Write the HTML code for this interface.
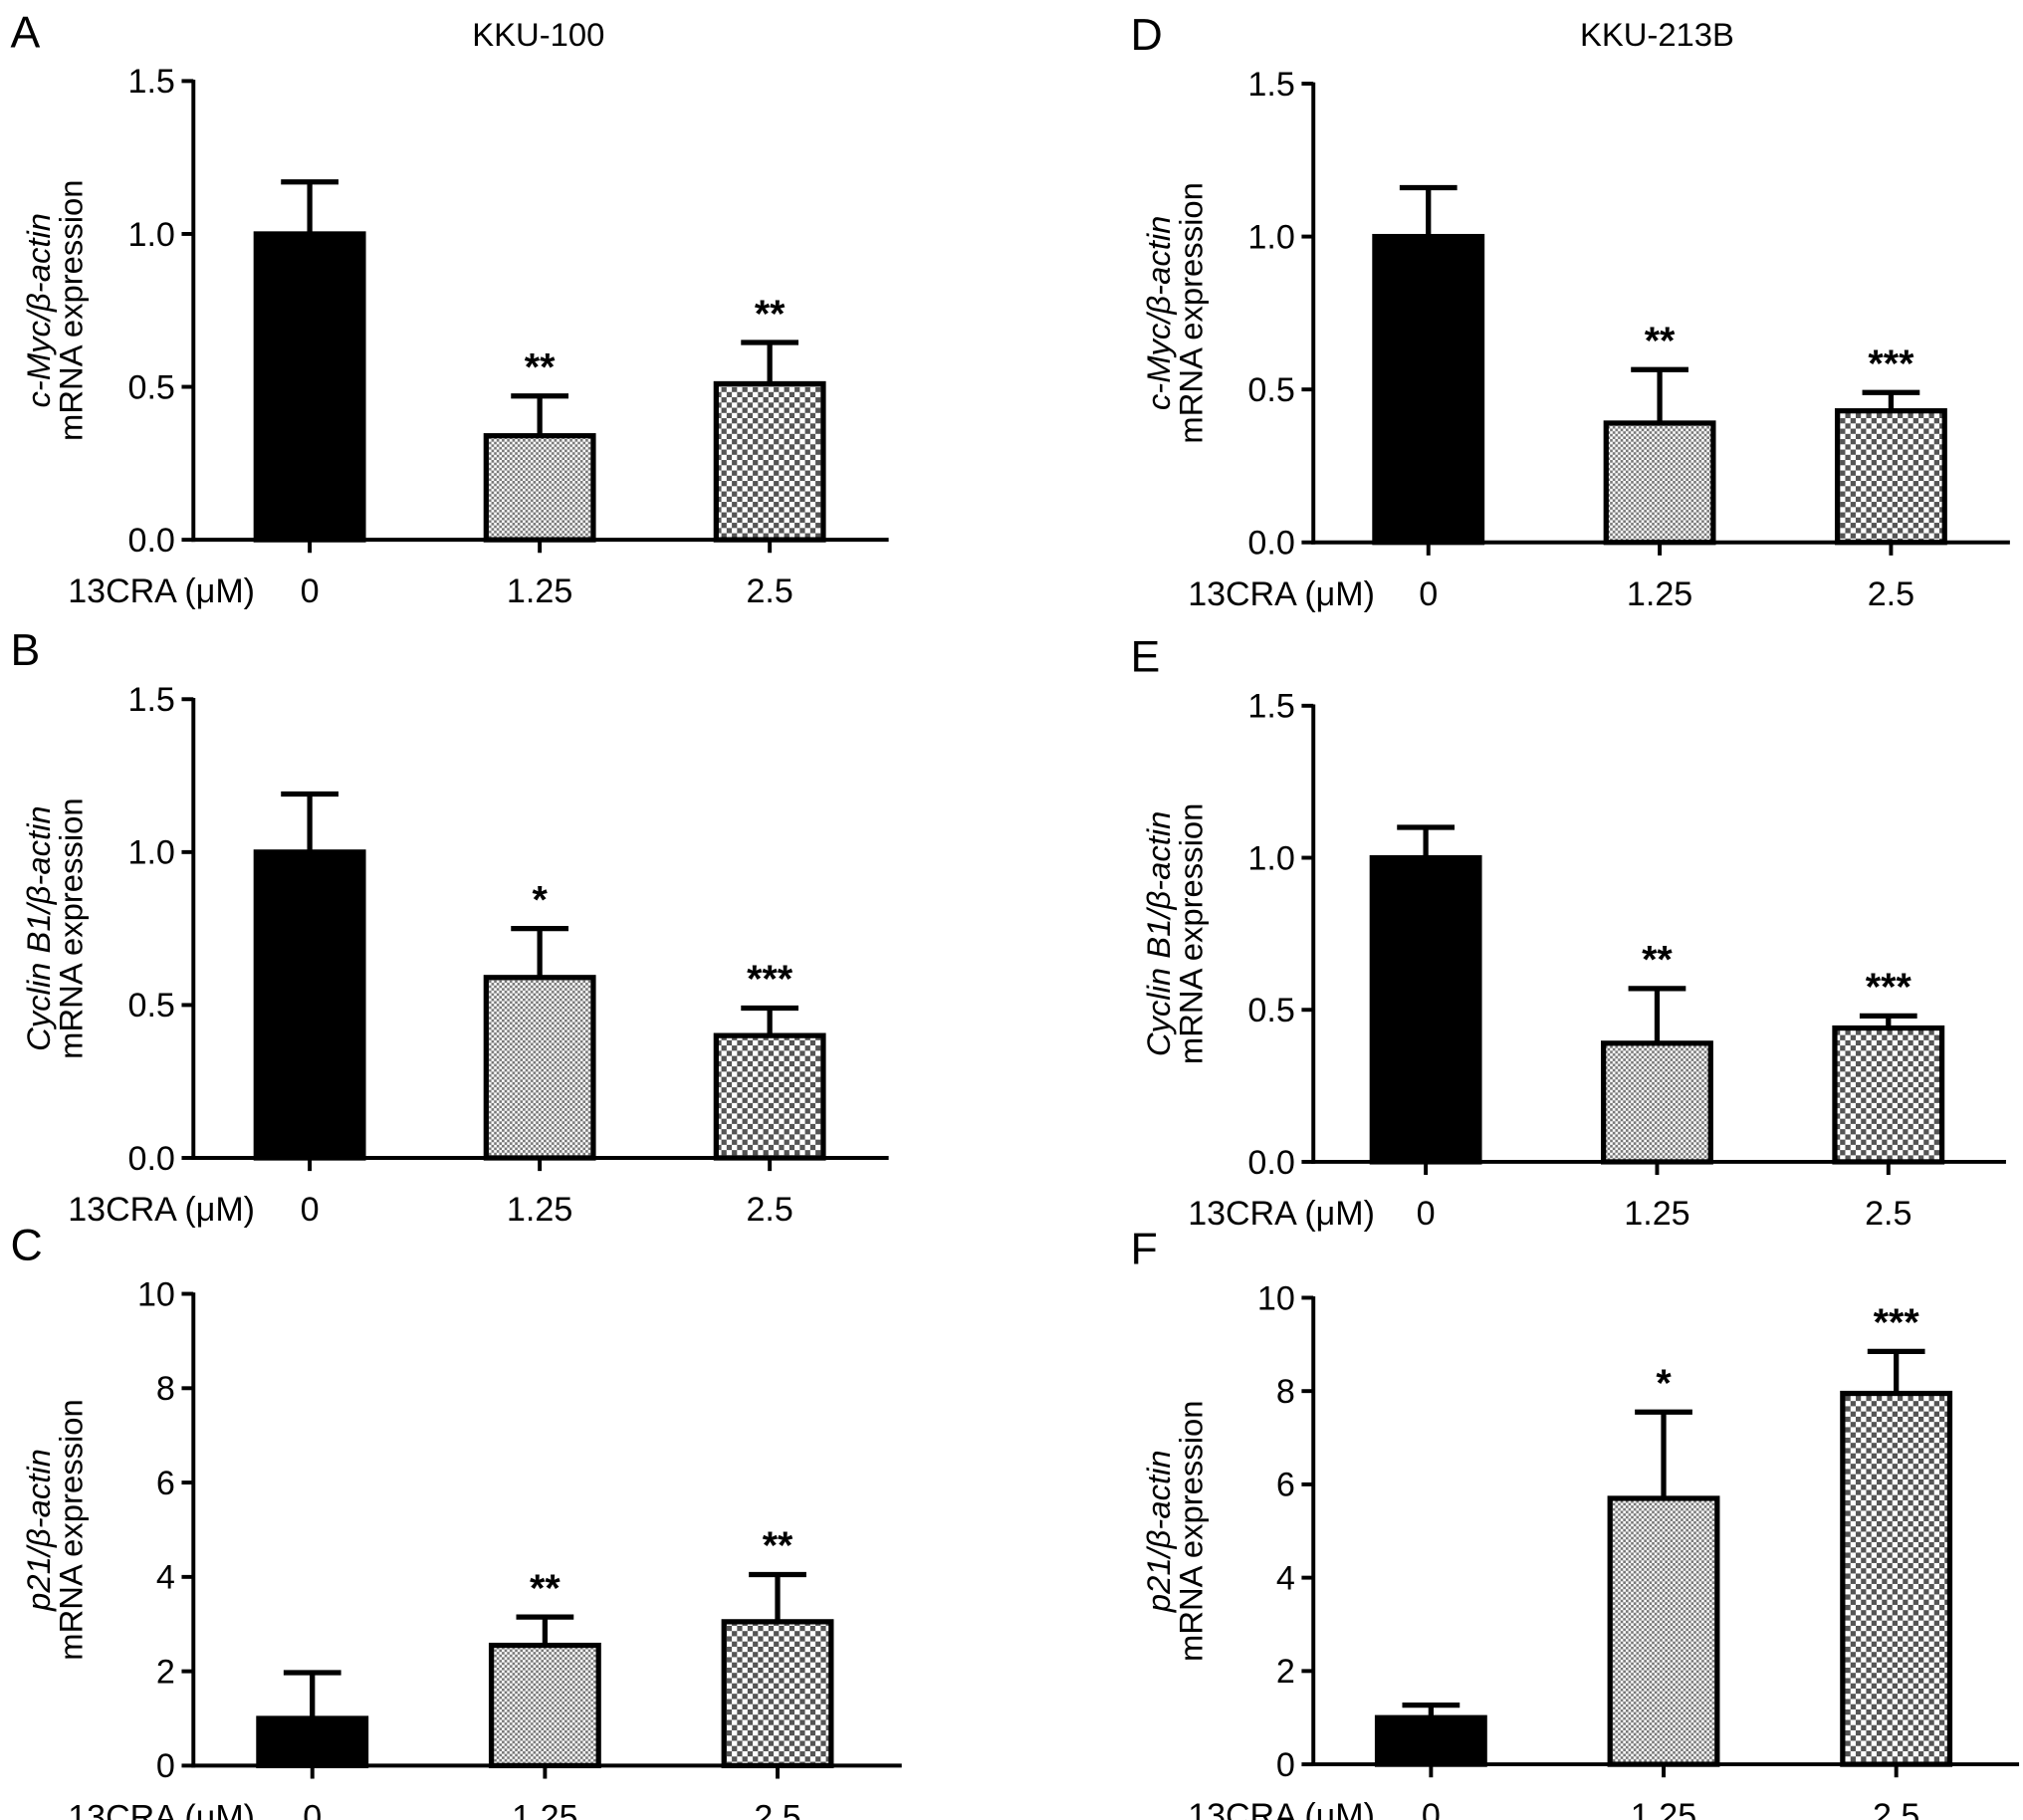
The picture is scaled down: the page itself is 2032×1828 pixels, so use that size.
<!DOCTYPE html>
<html><head><meta charset="utf-8"><style>html,body{margin:0;padding:0;background:#fff}svg{display:block}</style></head>
<body>
<svg id="fig" width="2032" height="1828" viewBox="0 0 1548 1392.6" xmlns="http://www.w3.org/2000/svg" font-family="Liberation Sans, sans-serif">
<defs>
<pattern id="fine" width="4" height="4" patternUnits="userSpaceOnUse"><rect width="4" height="4" fill="#fff"/><rect width="2" height="2" fill="#777"/><rect x="2" y="2" width="2" height="2" fill="#777"/></pattern>
<pattern id="coarse" width="8" height="8" patternUnits="userSpaceOnUse"><rect width="8" height="8" fill="#fff"/><rect width="4" height="4" fill="#555"/><rect x="4" y="4" width="4" height="4" fill="#555"/></pattern>
</defs>
</svg>
<script>
const categories = ["0", "1.25", "2.5"];
const valuesA = [1.0, 0.34, 0.51];
const errorsA = [1.17, 0.47, 0.645];
const starsA = ["", "**", "**"];
const valuesB = [1.0, 0.59, 0.40];
const errorsB = [1.19, 0.75, 0.49];
const starsB = ["", "*", "***"];
const valuesC = [1.0, 2.55, 3.05];
const errorsC = [1.97, 3.15, 4.05];
const starsC = ["", "**", "**"];
const valuesD = [1.0, 0.39, 0.43];
const errorsD = [1.16, 0.565, 0.49];
const starsD = ["", "**", "***"];
const valuesE = [1.0, 0.39, 0.44];
const errorsE = [1.10, 0.57, 0.48];
const starsE = ["", "**", "***"];
const valuesF = [1.0, 5.7, 7.95];
const errorsF = [1.27, 7.55, 8.85];
const starsF = ["", "*", "***"];
const ticks15 = [0, 0.5, 1.0, 1.5];
const tickLabels15 = ["0.0", "0.5", "1.0", "1.5"];
const ticks10 = [0, 2, 4, 6, 8, 10];
const tickLabels10 = ["0", "2", "4", "6", "8", "10"];

const svg = document.getElementById('fig');
const NS = 'http://www.w3.org/2000/svg';
function mk(tag, attrs, parent) {
  const e = document.createElementNS(NS, tag);
  for (const k in attrs) e.setAttribute(k, attrs[k]);
  (parent || svg).appendChild(e);
  return e;
}
const panels = [
  {id:'a', letter:'A', ax:148, top:62, bot:413, xr:680, x0:237, dx:176, vals:valuesA, errs:errorsA, stars:starsA, ticks:ticks15, tl:tickLabels15, max:1.5, gene:'c-Myc/β-actin', title:'KKU-100', tx:412},
  {id:'b', letter:'B', ax:148, top:535, bot:886, xr:680, x0:237, dx:176, vals:valuesB, errs:errorsB, stars:starsB, ticks:ticks15, tl:tickLabels15, max:1.5, gene:'Cyclin B1/β-actin'},
  {id:'c', letter:'C', ax:148, top:990, bot:1351, xr:690, x0:239, dx:178, vals:valuesC, errs:errorsC, stars:starsC, ticks:ticks10, tl:tickLabels10, max:10, gene:'p21/β-actin'},
  {id:'d', letter:'D', ax:1005, top:64, bot:415, xr:1538, x0:1093, dx:177, vals:valuesD, errs:errorsD, stars:starsD, ticks:ticks15, tl:tickLabels15, max:1.5, gene:'c-Myc/β-actin', title:'KKU-213B', tx:1268},
  {id:'e', letter:'E', ax:1005, top:540, bot:889, xr:1535, x0:1091, dx:177, vals:valuesE, errs:errorsE, stars:starsE, ticks:ticks15, tl:tickLabels15, max:1.5, gene:'Cyclin B1/β-actin'},
  {id:'f', letter:'F', ax:1005, top:993, bot:1350, xr:1545, x0:1095, dx:178, vals:valuesF, errs:errorsF, stars:starsF, ticks:ticks10, tl:tickLabels10, max:10, gene:'p21/β-actin'}
];
const fills = ['#000', 'url(#fine)', 'url(#coarse)'];
panels.forEach(p => {
  const g = mk('g', {});
  
  
  const y = v => p.bot - (v / p.max) * (p.bot - p.top);
  const x = i => p.x0 + i * p.dx;
  const lt = p.ax - 140;
  const letter = mk('text', {x: lt, y: p.top - 26, 'font-size': 34}, g);
  letter.textContent = p.letter;
  
  
  if (p.title) {
    const t = mk('text', {x: p.tx, y: 35, 'font-size': 25, 'text-anchor': 'middle'}, g);
    t.textContent = p.title;
    
    
  }
  const cy = (p.top + p.bot) / 2;
  const yl = mk('text', {transform: `translate(${p.ax - 110},${cy}) rotate(-90)`, 'font-size': 25, 'text-anchor': 'middle'}, g);
  
  
  const t1 = mk('tspan', {x: 0, dy: 0, 'font-style': 'italic'}, yl); t1.textContent = p.gene;
  const t2 = mk('tspan', {x: 0, dy: 25}, yl); t2.textContent = 'mRNA expression';
  p.vals.forEach((v, i) => {
    const bw = 82;
    const r = mk('rect', {x: x(i) - bw / 2, y: y(v), width: bw, height: p.bot - y(v), fill: fills[i], stroke: '#000', 'stroke-width': 4}, g);
    
    
    const el = mk('path', {d: `M${x(i)},${y(v)}V${y(p.errs[i])}M${x(i) - 22},${y(p.errs[i])}H${x(i) + 22}`, stroke: '#000', 'stroke-width': 4, fill: 'none'}, g);
    
    
    if (p.stars[i]) {
      const s = mk('text', {x: x(i), y: y(p.errs[i]) - 12, 'font-size': 30, 'font-weight': 'bold', 'text-anchor': 'middle'}, g);
      s.textContent = p.stars[i];
      
      
    }
    const tk = mk('line', {x1: x(i), x2: x(i), y1: p.bot, y2: p.bot + 10, stroke: '#000', 'stroke-width': 3}, g);
    
    
    const xl = mk('text', {x: x(i), y: p.bot + 48, 'font-size': 26, 'text-anchor': 'middle'}, g);
    xl.textContent = categories[i];
    
    
  });
  const xt = mk('text', {x: p.ax - 96, y: p.bot + 48, 'font-size': 26, textLength: 143, lengthAdjust: 'spacingAndGlyphs'}, g);
  xt.textContent = '13CRA (μM)';
  
  
  const ya = mk('line', {x1: p.ax, x2: p.ax, y1: p.top - 1, y2: p.bot + 1.5, stroke: '#000', 'stroke-width': 3}, g);
  
  
  const xa = mk('line', {x1: p.ax - 1.5, x2: p.xr, y1: p.bot, y2: p.bot, stroke: '#000', 'stroke-width': 3}, g);
  
  
  p.ticks.forEach((t, k) => {
    const tl = mk('line', {x1: p.ax - 9, x2: p.ax, y1: y(t), y2: y(t), stroke: '#000', 'stroke-width': 3}, g);
    
    
    const lb = mk('text', {x: p.ax - 14, y: y(t) + 9, 'font-size': 26, 'text-anchor': 'end'}, g);
    lb.textContent = p.tl[k];
    
    
  });
});
</script>
</body></html>
